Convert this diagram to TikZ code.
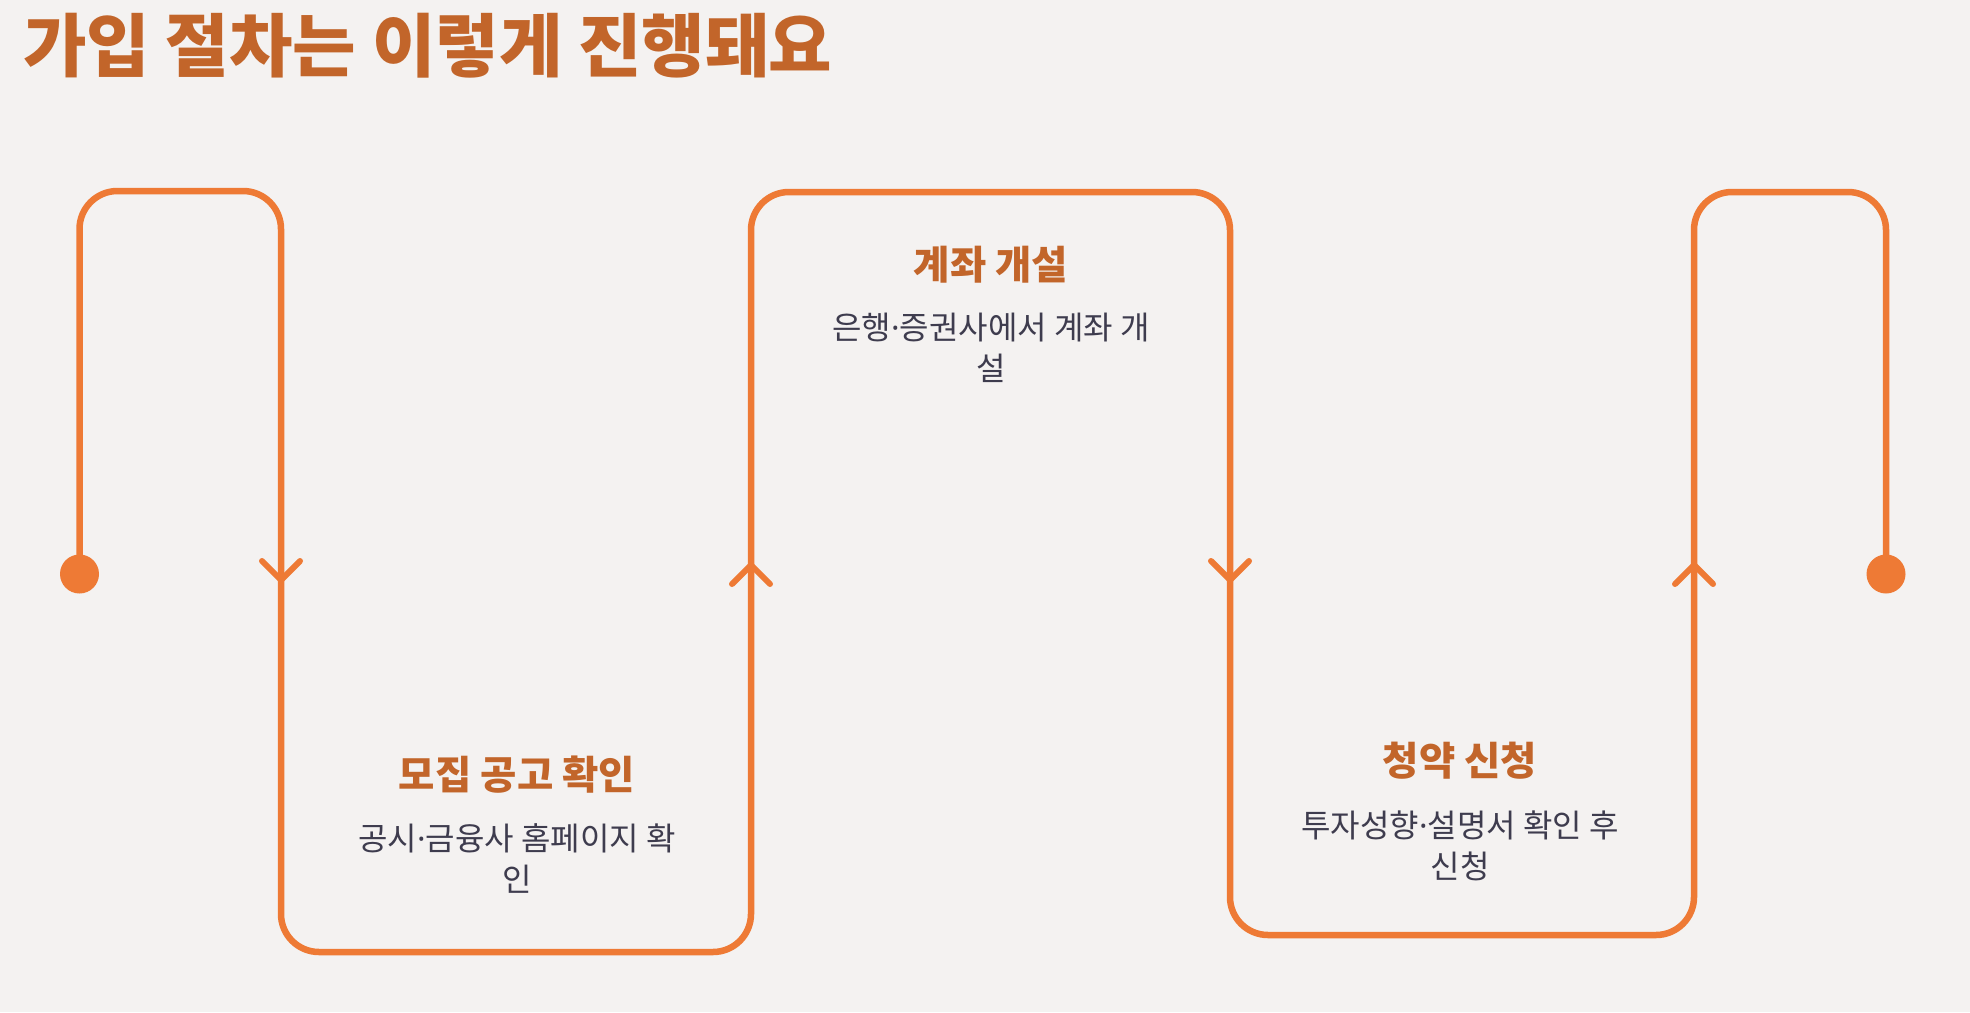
\documentclass[tikz,border=0pt]{standalone}
\usepackage{fontspec}
\setmainfont{Noto Sans CJK KR}
\newfontfamily\dotfont{Noto Sans}
\usetikzlibrary{calc}
\definecolor{bgc}{HTML}{F4F2F1}
\definecolor{linec}{HTML}{EE7A35}
\definecolor{headc}{HTML}{C2652A}
\definecolor{bodyc}{HTML}{3E3C4E}
\newcommand{\mdot}{{\dotfont ·}}
\tikzset{
  flow/.style={draw=linec, line width=6.5pt, rounded corners=38pt},
  chev/.style={draw=linec, line width=6pt, line cap=round, line join=round},
  dotmark/.style={circle, fill=linec, minimum size=39pt, inner sep=0pt},
  pagetitle/.style={inner sep=0pt, anchor=west, text=headc, font=\fontsize{69}{75}\selectfont\bfseries},
  stephead/.style={inner sep=0pt, text=headc, font=\fontsize{39.5}{44}\selectfont\bfseries},
  stepbody/.style={inner sep=0pt, text=bodyc, align=center, font=\fontsize{32}{41}\selectfont},
}
\begin{document}
\begin{tikzpicture}[x=1pt,y=-1pt]
\fill[bgc] (0,0) rectangle (1970,1012);
\useasboundingbox (0,0) rectangle (1970,1012);

\node[pagetitle] (title) at (23,46) {가입 절차는 이렇게 진행돼요};

% path coordinates
\coordinate (s) at (79.5,574);
\coordinate (e) at (1886,574);
\node[dotmark] (startdot) at (s) {};
\node[dotmark] (enddot) at (e) {};

\draw[flow] (s) -- (79.5,191) -- (281,191) -- (281,952) -- (751,952) -- (751,192)
  -- (1230,192) -- (1230,935) -- (1694,935) -- (1694,192) -- (1886,192) -- (e);

% chevrons
\coordinate (a1) at (281,580);
\coordinate (a2) at (751,565);
\coordinate (a3) at (1230,580);
\coordinate (a4) at (1694,565);
\draw[chev] ($(a1)+(-19,-19)$) -- (a1) -- ($(a1)+(19,-19)$);
\draw[chev] ($(a2)+(-19,19)$) -- (a2) -- ($(a2)+(19,19)$);
\draw[chev] ($(a3)+(-19,-19)$) -- (a3) -- ($(a3)+(19,-19)$);
\draw[chev] ($(a4)+(-19,19)$) -- (a4) -- ($(a4)+(19,19)$);

% step texts
\node[stephead] (h1) at (517,775) {모집 공고 확인};
\node[stepbody] (b1) at (517,858) {공시\mdot 금융사 홈페이지 확\\인};

\node[stephead] (h2) at (991,265) {계좌 개설};
\node[stepbody] (b2) at (991,348) {은행\mdot 증권사에서 계좌 개\\설};

\node[stephead] (h3) at (1460,761) {청약 신청};
\node[stepbody] (b3) at (1460,846) {투자성향\mdot 설명서 확인 후\\신청};
\end{tikzpicture}
\end{document}
